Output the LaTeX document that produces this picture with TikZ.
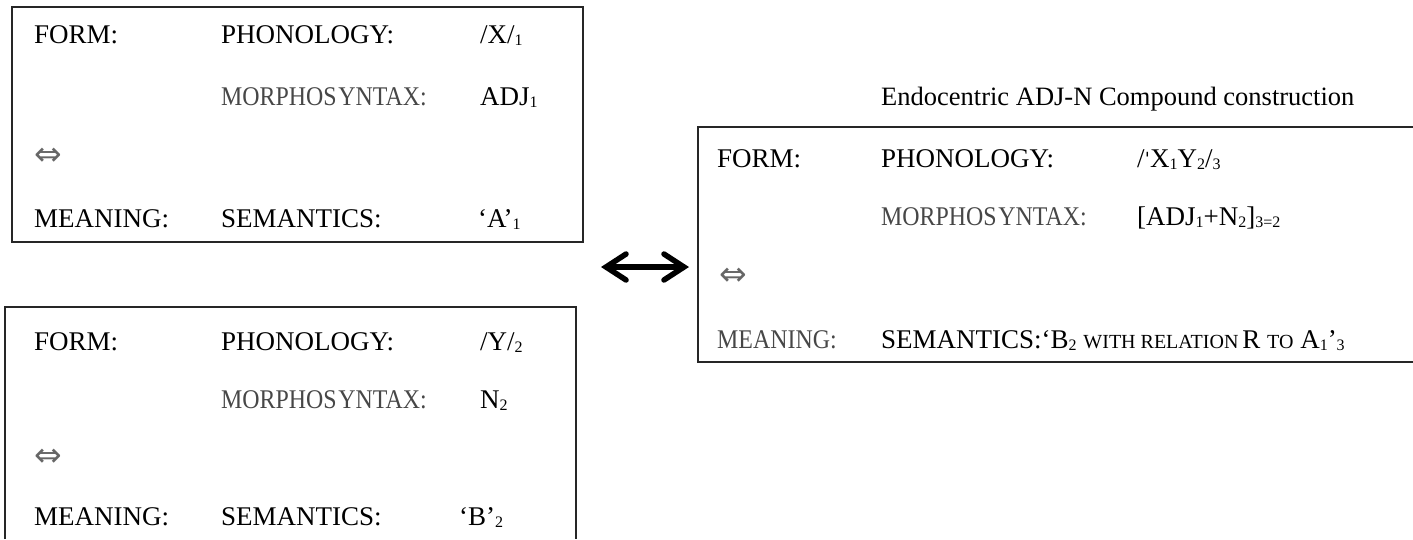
\documentclass[tikz,border=0pt]{standalone}
\usepackage{fontspec}
\usepackage{graphicx}
\setmainfont{Liberation Serif}
\newfontfamily\djv{DejaVu Sans}
\newfontfamily\djvs{DejaVu Serif}
\usetikzlibrary{arrows.meta}
\newcommand\sbs[1]{\raisebox{-2pt}{\fontsize{16}{16}\selectfont #1}}
\newcommand\cnd[1]{\scalebox{0.885}[1]{#1}}
\newcommand\morphtxt{MORPHOS\kern2pt YNTAX:}
\tikzset{
  boxline/.style={line width=1.7pt, draw=black!85},
  lab/.style={anchor=base west, inner sep=0pt, font=\fontsize{27}{30}\selectfont},
  morlab/.style={anchor=base west, inner sep=0pt, text=black!72, font=\fontsize{27}{30}\selectfont},
  iffsym/.style={anchor=west, inner sep=0pt, text=black!60, font=\djv\fontsize{33}{35}\selectfont},
  ttl/.style={anchor=base west, inner sep=0pt, font=\fontsize{26.5}{29}\selectfont},
  bigarrow/.style={line width=5.5pt, {Straight Barb[length=20pt,width=26pt,line cap=round,line join=miter]}-{Straight Barb[length=20pt,width=26pt,line cap=round,line join=miter]}}
}
\begin{document}
\begin{tikzpicture}[x=1pt,y=-1pt]
\useasboundingbox (0,0) rectangle (1413,539);
% box 1
\draw[boxline] (12,7) rectangle (583,242);
\node[lab] (f1) at (34,43) {FORM:};
\node[lab] (p1) at (221,43) {PHONOLOGY:};
\node[lab] (pv1) at (480,43) {/X/\sbs{1}};
\node[morlab] (m1) at (221,105) {\cnd{\morphtxt}};
\node[lab] (mv1) at (480,105) {ADJ\sbs{1}};
\node[iffsym] (i1) at (34,157) {⇔};
\node[lab] (me1) at (34,227) {MEANING:};
\node[lab] (s1) at (221,227) {SEMANTICS:};
\node[lab] (sv1) at (478,227) {‘A’\sbs{1}};
% box 2
\draw[boxline] (5,539) -- (5,307) -- (576,307) -- (576,539);
\node[lab] (f2) at (34,350) {FORM:};
\node[lab] (p2) at (221,350) {PHONOLOGY:};
\node[lab] (pv2) at (480,350) {/Y/\sbs{2}};
\node[morlab] (m2) at (221,408) {\cnd{\morphtxt}};
\node[lab] (mv2) at (480,408) {N\sbs{2}};
\node[iffsym] (i2) at (34,458) {⇔};
\node[lab] (me2) at (34,525) {MEANING:};
\node[lab] (s2) at (221,525) {SEMANTICS:};
\node[lab] (sv2) at (459,525) {‘B’\sbs{2}};
% arrow
\coordinate (al) at (601,267);
\coordinate (ar) at (689,267);
\draw[bigarrow] (al) -- (ar);
% right box
\node[ttl] (t3) at (881,105) {Endocentric ADJ-N Compound construction};
\draw[boxline] (1413,127) -- (698,127) -- (698,362) -- (1413,362);
\node[lab] (f3) at (717,167) {FORM:};
\node[lab] (p3) at (881,167) {PHONOLOGY:};
\node[lab] (pv3) at (1137,167) {/{\djvs\fontsize{20}{22}\selectfont ˈ}X\sbs{1}Y\sbs{2}/\sbs{3}};
\node[morlab] (m3) at (881,225) {\cnd{\morphtxt}};
\node[lab] (mv3) at (1137,225) {[ADJ\sbs{1}+N\sbs{2}]\sbs{3=2}};
\node[iffsym] (i3) at (719,277) {⇔};
\node[morlab] (me3) at (717,348) {\cnd{MEANING:}};
\node[lab] (s3) at (881,348) {SEMANTICS:‘B\sbs{2} {\fontsize{20}{22}\selectfont WITH RELATION}\kern4pt R {\fontsize{20}{22}\selectfont TO} A\sbs{1}’\sbs{3}};
\end{tikzpicture}
\end{document}
